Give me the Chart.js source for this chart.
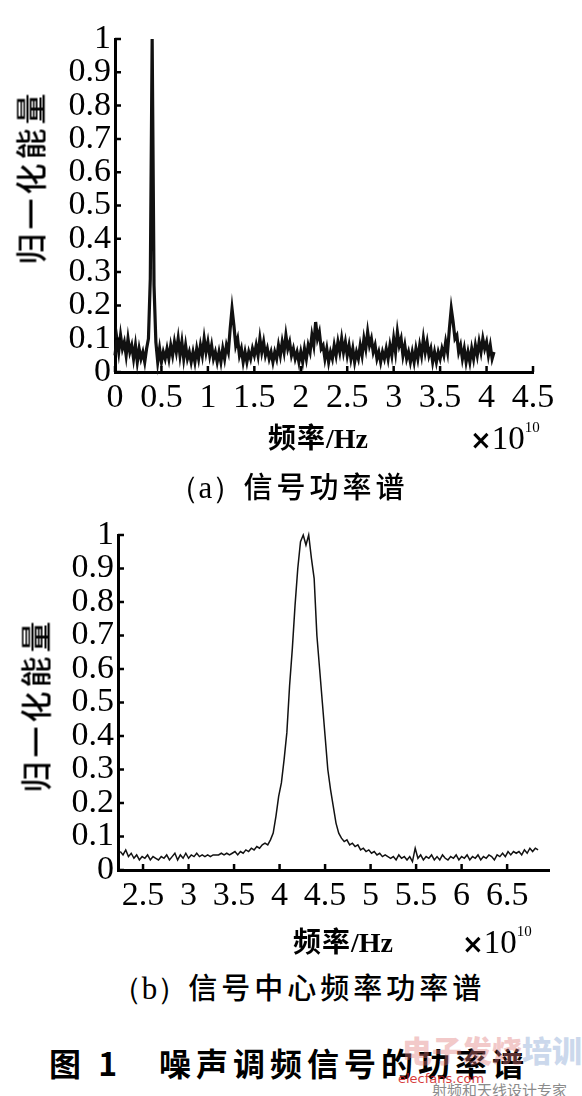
<!DOCTYPE html>
<html>
<head>
<meta charset="utf-8">
<script src="https://cdn.jsdelivr.net/npm/chart.js@4.4.1/dist/chart.umd.min.js"></script>
<style>
  body { margin: 0; width: 582px; height: 1096px; background: #fff; position: relative; overflow: hidden; color: #000; }
  canvas { position: absolute; left: 0; }
  #chartA { top: 0; }
  #chartB { top: 500px; }
  .txt { position: absolute; white-space: nowrap; line-height: 1; }
  .ytitle { font-family: "Noto Sans CJK SC", sans-serif; font-size: 31px; font-weight: 500; letter-spacing: 4px; transform: translate(-50%, -50%) rotate(-90deg); }
  .xtitle { font-family: "Liberation Serif", "Noto Sans CJK SC", serif; font-size: 28px; font-weight: bold; transform: translate(-50%, -50%); }
  .xtitle .cn { font-family: "Noto Sans CJK SC", sans-serif; font-weight: 700; letter-spacing: 1px; }
  .pow { font-family: "Liberation Serif", serif; font-size: 33px; transform: translateY(-50%); }
  .pow sup { font-size: 15px; vertical-align: 17px; }
  .pow .mul { font-family: "DejaVu Sans", sans-serif; font-size: 26px; font-weight: bold; }
  .cap { font-family: "Noto Sans CJK SC", sans-serif; font-size: 29px; font-weight: 500; letter-spacing: 4px; transform: translate(-50%, -50%); }
  .cap .lt { font-family: "Liberation Serif", serif; font-size: 31px; font-weight: normal; letter-spacing: 0; }
  .fig { font-family: "Noto Sans CJK SC", sans-serif; font-size: 32px; font-weight: 700; letter-spacing: 5px; transform: translateY(-50%); }
  .wm { opacity: 0.4; font-family: "Noto Sans CJK SC", sans-serif; }
</style>
</head>
<body>
<canvas id="chartA" width="582" height="420"></canvas>
<canvas id="chartB" width="582" height="420"></canvas>

<div class="txt ytitle" style="left:29px; top:177px;">归一化能量</div>
<div class="txt xtitle" style="left:318px; top:437px;"><span class="cn">频率</span>/Hz</div>
<div class="txt pow" style="left:470px; top:437px;"><span class="mul">×</span>10<sup>10</sup></div>
<div class="txt cap" style="left:288px; top:487px;"><span class="lt">（a）</span>信号功率谱</div>

<div class="txt ytitle" style="left:34px; top:705px;">归一化能量</div>
<div class="txt xtitle" style="left:343px; top:941px;"><span class="cn">频率</span>/Hz</div>
<div class="txt pow" style="left:462px; top:941px;"><span class="mul">×</span>10<sup>10</sup></div>
<div class="txt cap" style="left:298px; top:988px;"><span class="lt">（b）</span>信号中心频率功率谱</div>

<div class="txt fig" style="left:49px; top:1062px;">图 1&nbsp;&nbsp;&nbsp;噪声调频信号的功率谱</div>
<div class="txt wm" style="left:402px; top:1034px; font-size:30px; font-weight:900; color:#e07a7a;">电子发烧<span style="color:#7f9fd0;">培训</span></div>
<div class="txt wm" style="left:398px; top:1072px; font-family:'DejaVu Sans',sans-serif; font-size:13px; color:#d01818; opacity:0.85;">elecfans.com</div>
<div class="txt wm" style="left:432px; top:1082px; font-size:15px; color:#777; opacity:0.85;">射频和天线设计专家</div>

<script>
// (a) full-band power spectrum, sampled every 0.02 (x 10^10 Hz) from 0
const stepA = 0.02;
const powerA = [
  0.05, 0.10, 0.06, 0.11, 0.07, 0.09, 0.05, 0.10, 0.06, 0.08,
  0.04, 0.08, 0.03, 0.07, 0.04, 0.06, 0.03, 0.07, 0.10, 0.28,
  1.00, 0.26, 0.09, 0.03, 0.07, 0.03, 0.06, 0.04, 0.07, 0.04,
  0.08, 0.05, 0.09, 0.06, 0.10, 0.05, 0.09, 0.04, 0.08, 0.04,
  0.06, 0.03, 0.06, 0.03, 0.07, 0.04, 0.08, 0.05, 0.10, 0.06,
  0.09, 0.05, 0.08, 0.04, 0.06, 0.03, 0.06, 0.03, 0.07, 0.04,
  0.08, 0.06, 0.13, 0.19, 0.14, 0.08, 0.10, 0.05, 0.07, 0.03,
  0.06, 0.03, 0.06, 0.04, 0.07, 0.05, 0.08, 0.05, 0.10, 0.06,
  0.09, 0.05, 0.07, 0.04, 0.06, 0.03, 0.06, 0.04, 0.08, 0.05,
  0.09, 0.06, 0.11, 0.07, 0.09, 0.05, 0.07, 0.04, 0.06, 0.03,
  0.06, 0.03, 0.07, 0.04, 0.08, 0.06, 0.11, 0.08, 0.15, 0.10,
  0.12, 0.07, 0.08, 0.04, 0.07, 0.03, 0.06, 0.04, 0.08, 0.05,
  0.09, 0.06, 0.10, 0.06, 0.09, 0.05, 0.08, 0.04, 0.07, 0.03,
  0.06, 0.04, 0.08, 0.05, 0.10, 0.07, 0.12, 0.08, 0.10, 0.06,
  0.08, 0.04, 0.06, 0.03, 0.06, 0.04, 0.07, 0.04, 0.08, 0.05,
  0.10, 0.06, 0.12, 0.08, 0.10, 0.05, 0.08, 0.04, 0.06, 0.03,
  0.06, 0.03, 0.07, 0.04, 0.08, 0.05, 0.10, 0.06, 0.09, 0.05,
  0.07, 0.03, 0.06, 0.03, 0.06, 0.04, 0.07, 0.05, 0.09, 0.06,
  0.13, 0.19, 0.15, 0.10, 0.11, 0.06, 0.08, 0.04, 0.07, 0.03,
  0.06, 0.03, 0.07, 0.04, 0.08, 0.05, 0.09, 0.06, 0.10, 0.07,
  0.09, 0.05, 0.08, 0.04, 0.06
];

// (b) zoom on the centre frequency, sampled every 0.03 from 2.25
const startB = 2.25;
const stepB = 0.03;
const powerB = [
  0.055, 0.045, 0.06, 0.04, 0.05, 0.035,
  0.045, 0.03, 0.04, 0.035, 0.045, 0.03, 0.04, 0.035, 0.03, 0.04,
  0.035, 0.045, 0.03, 0.04, 0.05, 0.03, 0.045, 0.035, 0.05, 0.035,
  0.045, 0.04, 0.05, 0.04, 0.045, 0.04, 0.045, 0.04, 0.045, 0.045,
  0.045, 0.05, 0.045, 0.05, 0.045, 0.05, 0.055, 0.045, 0.055, 0.05,
  0.06, 0.055, 0.065, 0.06, 0.07, 0.065, 0.075, 0.08, 0.075,
  0.09, 0.11, 0.16, 0.22, 0.26, 0.33, 0.41, 0.55, 0.66, 0.79,
  0.90, 0.98, 1.00, 0.97, 1.00, 0.93, 0.87, 0.70, 0.60, 0.50,
  0.40, 0.30, 0.24, 0.19, 0.14, 0.11, 0.095, 0.085, 0.09, 0.075,
  0.08, 0.07, 0.075, 0.06, 0.065, 0.055, 0.06, 0.05, 0.055, 0.045,
  0.05, 0.04, 0.045, 0.04, 0.035, 0.04, 0.03, 0.045, 0.035, 0.04,
  0.03, 0.04, 0.025, 0.065, 0.035, 0.045, 0.03, 0.04, 0.035, 0.045,
  0.03, 0.04, 0.03, 0.045, 0.035, 0.03, 0.04, 0.035, 0.045, 0.03,
  0.04, 0.035, 0.045, 0.03, 0.04, 0.035, 0.045, 0.03, 0.04, 0.035,
  0.045, 0.04, 0.03, 0.045, 0.04, 0.05, 0.04, 0.055, 0.045, 0.055,
  0.05, 0.055, 0.045, 0.06, 0.05, 0.065, 0.055, 0.065, 0.06
];

const xTicksA = [0, 0.5, 1, 1.5, 2, 2.5, 3, 3.5, 4, 4.5];
const xTicksB = [2.5, 3, 3.5, 4, 4.5, 5, 5.5, 6, 6.5];
const yTicks = [0, 0.1, 0.2, 0.3, 0.4, 0.5, 0.6, 0.7, 0.8, 0.9, 1];

const tickFont = { family: '"Liberation Serif", serif', size: 34 };

// ticks in this figure point into the plot, so draw them ourselves
const innerTicks = {
  id: 'innerTicks',
  afterDraw(chart, args, opts) {
    const { ctx, chartArea, scales } = chart;
    ctx.save();
    ctx.strokeStyle = '#000';
    ctx.lineWidth = 2.5;
    ctx.beginPath();
    for (const t of scales.x.ticks) {
      const px = scales.x.getPixelForValue(t.value);
      ctx.moveTo(px, chartArea.bottom);
      ctx.lineTo(px, chartArea.bottom - opts.len);
    }
    for (const t of scales.y.ticks) {
      const py = scales.y.getPixelForValue(t.value);
      ctx.moveTo(chartArea.left, py);
      ctx.lineTo(chartArea.left + opts.len, py);
    }
    ctx.stroke();
    ctx.restore();
  }
};

/**
 * Build one of the two spectrum panels
 * @param {string} id canvas id
 * @param {Array<{x:number,y:number}>} points
 * @param {Object} box layout numbers for this panel
 */
function renderSpectrum(id, points, box) {
  const ctx = document.getElementById(id);
  return new Chart(ctx, {
    type: 'line',
    data: {
      datasets: [{
        data: points,
        borderColor: '#111',
        borderWidth: box.lineWidth,
        borderJoinStyle: 'miter',
        pointRadius: 0,
        tension: 0,
        clip: 4
      }]
    },
    plugins: [innerTicks],
    options: {
      responsive: false,
      animation: false,
      devicePixelRatio: 1,
      layout: { padding: { left: 0, right: box.right, top: box.top, bottom: 0 } },
      plugins: {
        legend: { display: false },
        tooltip: { enabled: false },
        innerTicks: { len: 6 }
      },
      scales: {
        x: {
          type: 'linear',
          min: box.xMin,
          max: box.xMax,
          afterBuildTicks: (s) => { s.ticks = box.xTicks.map((v) => ({ value: v })); },
          afterFit: (s) => { s.height = box.xHeight; },
          grid: { display: false, drawTicks: false },
          border: { display: true, color: '#000', width: 3 },
          ticks: {
            autoSkip: false, maxRotation: 0, padding: 6,
            color: '#000', font: tickFont,
            callback: (v) => String(v)
          }
        },
        y: {
          min: 0,
          max: 1,
          afterBuildTicks: (s) => { s.ticks = yTicks.map((v) => ({ value: v })); },
          afterFit: (s) => { s.width = box.yWidth; },
          grid: { display: false, drawTicks: false },
          border: { display: true, color: '#000', width: 3 },
          ticks: {
            autoSkip: false, padding: 4,
            color: '#000', font: tickFont,
            callback: (v) => String(v)
          }
        }
      }
    }
  });
}

const pointsA = powerA.map((y, i) => ({ x: +(i * stepA).toFixed(2), y }));
const pointsB = powerB.map((y, i) => ({ x: +(startB + i * stepB).toFixed(2), y }));

renderSpectrum('chartA', pointsA, {
  xMin: 0, xMax: 4.5, xTicks: xTicksA,
  top: 39, right: 49, yWidth: 115, xHeight: 48, lineWidth: 3.2
});
renderSpectrum('chartB', pointsB, {
  xMin: 2.225, xMax: 6.96, xTicks: xTicksB,
  top: 35, right: 33, yWidth: 118, xHeight: 50, lineWidth: 1.5
});
</script>
</body>
</html>
